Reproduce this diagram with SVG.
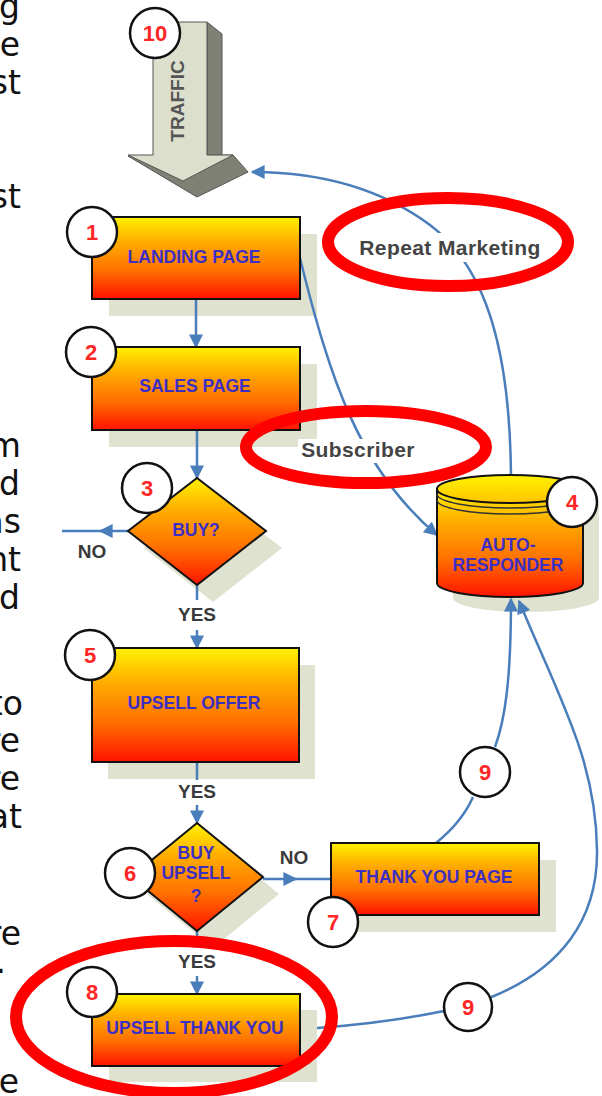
<svg xmlns="http://www.w3.org/2000/svg" width="602" height="1096" viewBox="0 0 602 1096">
<defs>
<linearGradient id="fire" x1="0" y1="0" x2="0" y2="1">
<stop offset="0" stop-color="#fff200"/>
<stop offset="0.3" stop-color="#ffad00"/>
<stop offset="0.65" stop-color="#ff7000"/>
<stop offset="1" stop-color="#ff1200"/>
</linearGradient>
<linearGradient id="cap" x1="0" y1="0" x2="0" y2="1">
<stop offset="0" stop-color="#fff200"/>
<stop offset="1" stop-color="#ffc400"/>
</linearGradient>
<marker id="ah" viewBox="0 0 10 10" refX="9" refY="5" markerWidth="14" markerHeight="14" markerUnits="userSpaceOnUse" orient="auto">
<path d="M0,0 L10,5 L0,10 z" fill="#4a7ebb"/>
</marker>
<style>
.sh{fill:#dee2cf}
.box{fill:url(#fire);stroke:#111;stroke-width:2}
.lbl{font-family:"Liberation Sans",Arial,sans-serif;font-weight:bold;font-size:17.5px;fill:#3d2fc4;text-anchor:middle}
.num{fill:#fff;stroke:#111;stroke-width:2.5}
.nt{font-family:"Liberation Sans",Arial,sans-serif;font-weight:bold;font-size:22px;fill:#ff2626;text-anchor:middle}
.cn{fill:none;stroke:#4a7ebb;stroke-width:2.5}
.el{font-family:"Liberation Sans",Arial,sans-serif;font-weight:bold;font-size:19px;fill:#3a3a3a;text-anchor:middle}
.big{font-family:"Liberation Sans",Arial,sans-serif;font-weight:bold;font-size:21px;fill:#444;text-anchor:middle;letter-spacing:0.4px}
.pg{font-family:"DejaVu Sans",Verdana,sans-serif;font-size:33px;fill:#111;text-anchor:end}
.red{fill:none;stroke:#ff0000;stroke-width:12}
</style>
</defs>

<g id="page-text">
<text class="pg" x="20" y="18">ng</text>
<text class="pg" x="20" y="56">he</text>
<text class="pg" x="21" y="94">st</text>
<text class="pg" x="21" y="208">st</text>
<text class="pg" x="21" y="457">m</text>
<text class="pg" x="20" y="495">nd</text>
<text class="pg" x="21" y="533">as</text>
<text class="pg" x="21" y="571">nt</text>
<text class="pg" x="20" y="609">nd</text>
<text class="pg" x="23" y="715">to</text>
<text class="pg" x="20" y="752">re</text>
<text class="pg" x="20" y="790">re</text>
<text class="pg" x="22" y="828">at</text>
<text class="pg" x="21" y="945">re</text>
<text class="pg" x="6" y="973">.</text>
<text class="pg" x="19" y="1093">e</text>
</g>

<g id="shadows">
<rect class="sh" x="109" y="234" width="208" height="82"/>
<rect class="sh" x="109" y="364" width="208" height="83"/>
<polygon class="sh" points="213,495 282,548 213,602 144,548"/>
<path class="sh" d="M453,506 L453,598 A73,14 0 0 0 599,598 L599,506 A73,14 0 0 0 453,506 z"/>
<rect class="sh" x="108" y="665" width="207" height="114"/>
<polygon class="sh" points="213,840 279,894 213,948 147,894"/>
<rect class="sh" x="348" y="860" width="208" height="72"/>
<rect class="sh" x="109" y="1010" width="208" height="72"/>
</g>

<g id="connectors">
<path class="cn" d="M196,299 L196,347" marker-end="url(#ah)"/>
<path class="cn" d="M197,430 L197,478" marker-end="url(#ah)"/>
<path class="cn" d="M128,531 L100,531" marker-end="url(#ah)"/>
<path class="cn" d="M101,531 L62,531"/>
<path class="cn" d="M197,585 L197,600"/>
<path class="cn" d="M197,630 L197,648" marker-end="url(#ah)"/>
<path class="cn" d="M197,762 L197,780"/>
<path class="cn" d="M197,805 L197,823" marker-end="url(#ah)"/>
<path class="cn" d="M263,879 L296,879" marker-end="url(#ah)"/>
<path class="cn" d="M295,879 L331,879"/>
<path class="cn" d="M197,931 L197,946"/>
<path class="cn" d="M197,976 L197,994" marker-end="url(#ah)"/>
<path class="cn" d="M300,258 C330,380 360,470 437,535" marker-end="url(#ah)"/>
<path class="cn" d="M511,476 C510,360 490,270 430,225 C380,188 320,172 252,172" marker-end="url(#ah)"/>
<path class="cn" d="M436,843 Q462,822 473,797"/>
<path class="cn" d="M495,747 C505,720 511,680 511,599" marker-end="url(#ah)"/>
<path class="cn" d="M317,1028 C360,1025 410,1018 444,1011"/>
<path class="cn" d="M489,998 C560,970 598,920 597,850 C596,760 560,700 519,601" marker-end="url(#ah)"/>
<rect x="352" y="233" width="196" height="29" fill="#fff"/>
<rect x="298" y="439" width="122" height="24" fill="#fff"/>
<text class="big" x="450" y="255">Repeat Marketing</text>
<text class="big" x="358" y="457">Subscriber</text>
<text class="el" x="92" y="558">NO</text>
<text class="el" x="197" y="621">YES</text>
<text class="el" x="197" y="798">YES</text>
<text class="el" x="294" y="864">NO</text>
<text class="el" x="197" y="968">YES</text>
</g>

<g id="node-10-traffic">
<polygon points="207,22 222,34 222,156 207,156" fill="#7e8174" stroke="#555" stroke-width="1"/>
<polygon points="128,156 197,197 248,172 233,155" fill="#7e8174" stroke="#555" stroke-width="1"/>
<polygon points="153,22 207,22 207,155 233,155 183,181 128,155 153,155" fill="#dcdfcc" stroke="#555" stroke-width="1"/>
<text x="0" y="0" transform="translate(184,101) rotate(-90)" font-family="Liberation Sans, Arial, sans-serif" font-weight="bold" font-size="19" fill="#555" text-anchor="middle">TRAFFIC</text>
<circle class="num" cx="155" cy="33" r="25"/>
<text class="nt" x="155" y="41">10</text>
</g>

<g id="node-1-landing">
<rect class="box" x="92" y="217" width="208" height="82"/>
<text class="lbl" x="194" y="263">LANDING PAGE</text>
<circle class="num" cx="92" cy="232" r="25"/>
<text class="nt" x="92" y="240">1</text>
</g>

<g id="node-2-sales">
<rect class="box" x="92" y="347" width="208" height="83"/>
<text class="lbl" x="195" y="392">SALES PAGE</text>
<circle class="num" cx="91" cy="352" r="25"/>
<text class="nt" x="91" y="360">2</text>
</g>

<g id="node-3-buy">
<polygon class="box" points="197,478 266,531 197,585 128,531"/>
<text class="lbl" x="196" y="536">BUY?</text>
<circle class="num" cx="147" cy="488" r="25"/>
<text class="nt" x="147" y="496">3</text>
</g>

<g id="node-4-autoresponder">
<path d="M437,489 L437,583 A73,14 0 0 0 583,583 L583,489 z" fill="url(#fire)" stroke="#111" stroke-width="2"/>
<ellipse cx="510" cy="489" rx="73" ry="14" fill="url(#cap)" stroke="#111" stroke-width="2"/>
<path d="M437,494 A73,14 0 0 0 583,494" fill="none" stroke="#333" stroke-width="1.5"/>
<path d="M437,500 A73,14 0 0 0 583,500" fill="none" stroke="#333" stroke-width="1.5"/>
<text class="lbl" x="508" y="551">AUTO-</text>
<text class="lbl" x="508" y="571">RESPONDER</text>
<circle class="num" cx="572" cy="502" r="25"/>
<text class="nt" x="572" y="510">4</text>
</g>

<g id="node-5-upsell-offer">
<rect class="box" x="92" y="648" width="207" height="114"/>
<text class="lbl" x="194" y="709">UPSELL OFFER</text>
<circle class="num" cx="90" cy="655" r="25"/>
<text class="nt" x="90" y="663">5</text>
</g>

<g id="node-6-buy-upsell">
<polygon class="box" points="197,823 263,877 197,931 131,877"/>
<text class="lbl" x="196" y="859">BUY</text>
<text class="lbl" x="196" y="879">UPSELL</text>
<text class="lbl" x="196" y="902">?</text>
<circle class="num" cx="130" cy="873" r="25"/>
<text class="nt" x="130" y="881">6</text>
</g>

<g id="node-7-thank-you">
<rect class="box" x="331" y="843" width="208" height="72"/>
<text class="lbl" x="434" y="883">THANK YOU PAGE</text>
<circle class="num" cx="333" cy="922" r="25"/>
<text class="nt" x="333" y="930">7</text>
</g>

<g id="node-8-upsell-thank-you">
<rect class="box" x="92" y="994" width="208" height="72"/>
<text class="lbl" x="195" y="1034">UPSELL THANK YOU</text>
<circle class="num" cx="92" cy="992" r="25"/>
<text class="nt" x="92" y="1000">8</text>
</g>

<g id="node-9a">
<circle class="num" cx="485" cy="772" r="25"/>
<text class="nt" x="485" y="780">9</text>
</g>

<g id="node-9b">
<circle class="num" cx="468" cy="1007" r="24"/>
<text class="nt" x="468" y="1015">9</text>
</g>

<g id="highlights">
<ellipse class="red" cx="448" cy="242" rx="120" ry="44"/>
<ellipse class="red" cx="366" cy="447" rx="120" ry="36"/>
<ellipse class="red" cx="174" cy="1017" rx="158" ry="76"/>
</g>
</svg>
